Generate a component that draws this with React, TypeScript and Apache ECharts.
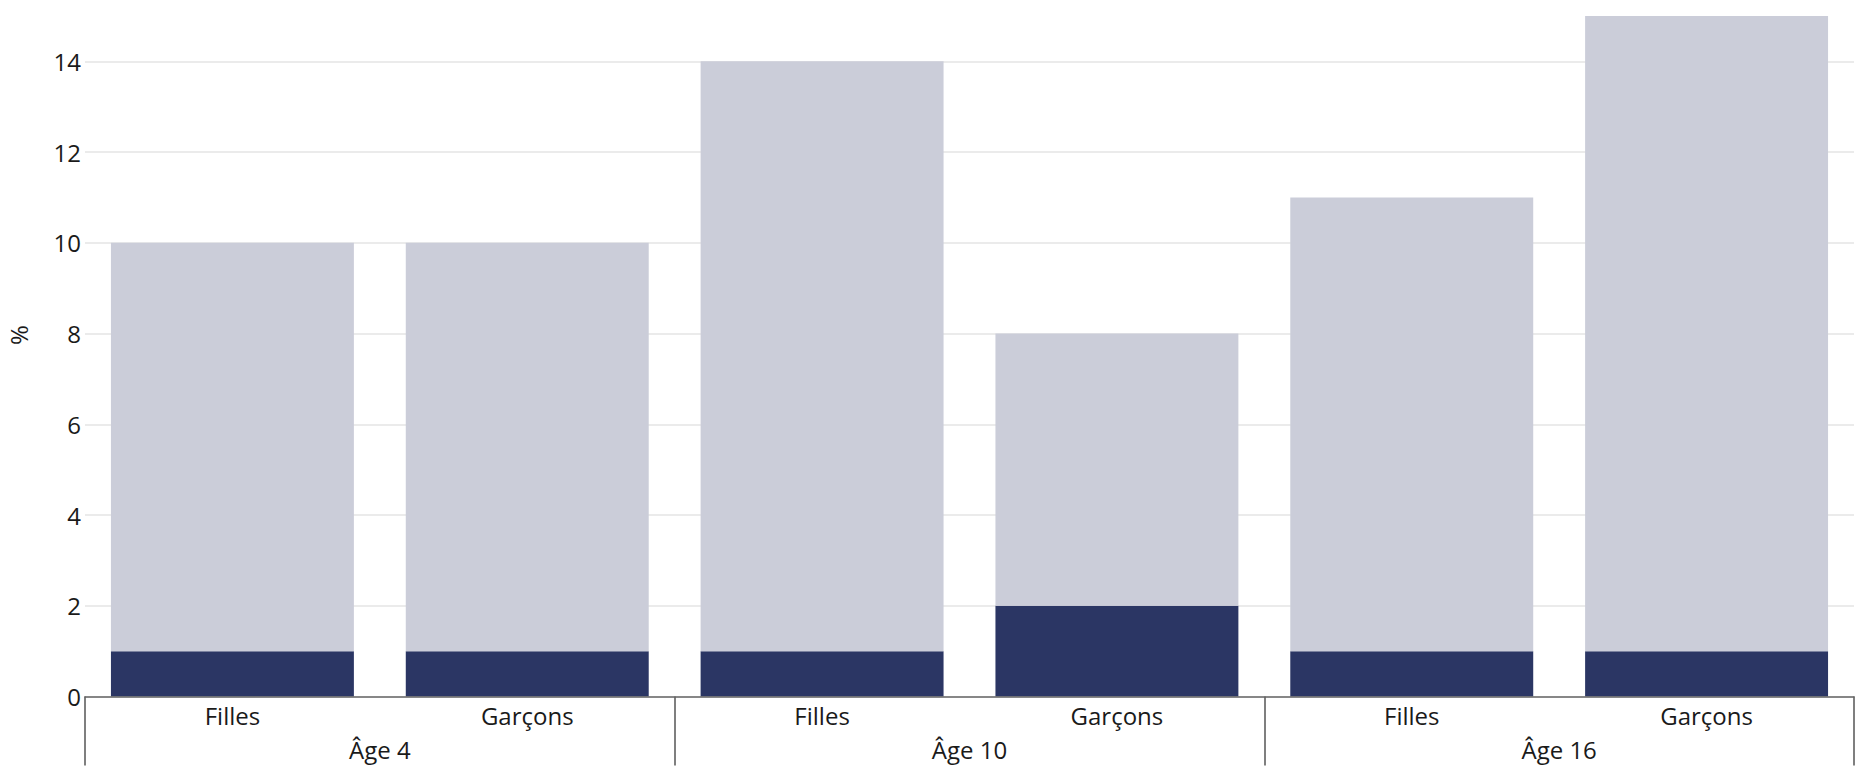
import React, { useEffect, useRef } from "react";
import * as echarts from "echarts";

const subCategories = ["Filles", "Garçons", "Filles", "Garçons", "Filles", "Garçons"];
const groupCategories = ["Âge 4", "Âge 10", "Âge 16"];
const darkValues = [1, 1, 1, 2, 1, 1];
const lightValues = [9, 9, 13, 6, 10, 14];
const yTickMax = 15;

const FONT = "'Open Sans', Lato, sans-serif";
const TEXT = "#1a1a1a";

export default function App() {
  const ref = useRef<HTMLDivElement>(null);
  useEffect(() => {
    if (!ref.current) return;
    const chart = echarts.init(ref.current, undefined, { renderer: "svg" });
    chart.setOption({
      animation: false,
      textStyle: { fontFamily: FONT },
      grid: { left: 85, right: 3, top: 16, bottom: 77.5, containLabel: false },
      xAxis: [
        {
          type: "category",
          data: subCategories,
          position: "bottom",
          axisLine: { show: true, lineStyle: { color: "#666", width: 1.5 } },
          axisTick: { show: false },
          axisLabel: { color: TEXT, fontSize: 24, fontFamily: FONT, margin: 7, interval: 0 },
          z: 5,
        },
        {
          type: "category",
          data: groupCategories,
          position: "bottom",
          axisLine: { show: false },
          axisTick: { show: true, length: 69, interval: 0, lineStyle: { color: "#555", width: 1.5 } },
          axisLabel: { color: TEXT, fontSize: 24, fontFamily: FONT, margin: 41, interval: 0 },
        },
      ],
      yAxis: {
        type: "value",
        min: 0,
        max: yTickMax,
        interval: 2,
        axisLine: { show: false },
        axisTick: { show: false },
        axisLabel: { color: TEXT, fontSize: 24, fontFamily: FONT, margin: 4, showMaxLabel: false },
        splitLine: { show: true, showMaxLine: false, lineStyle: { color: "#ebebeb", width: 2 } },
      },
      graphic: [
        {
          type: "text",
          x: 18,
          y: 335,
          rotation: Math.PI / 2,
          style: {
            text: "%",
            fontSize: 24,
            fontFamily: FONT,
            fill: TEXT,
            align: "center",
            verticalAlign: "middle",
          },
        },
      ],
      series: [
        {
          type: "bar",
          stack: "total",
          data: darkValues,
          barCategoryGap: "17.6%",
          itemStyle: { color: "#2b3664" },
        },
        {
          type: "bar",
          stack: "total",
          data: lightValues,
          barCategoryGap: "17.6%",
          itemStyle: { color: "#cbcdd9" },
        },
      ],
    });
    return () => chart.dispose();
  }, []);
  return (
    <div
      ref={ref}
      style={{ position: "fixed", left: 0, top: 0, width: 1857, height: 774, background: "#fff" }}
    />
  );
}
